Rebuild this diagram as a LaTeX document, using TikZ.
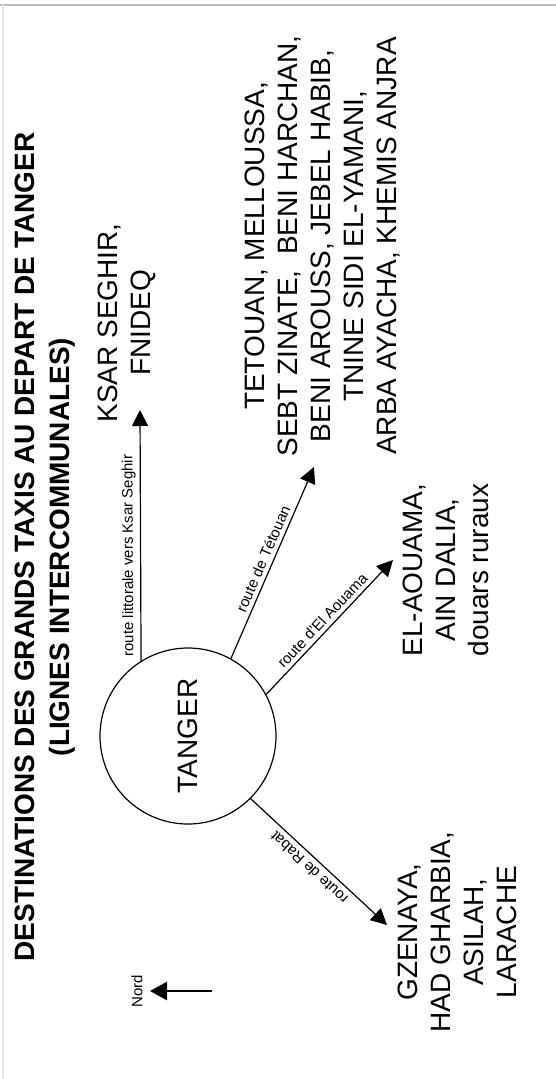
\documentclass[tikz,border=0pt]{standalone}
\usepackage{fontspec}
\setmainfont{Liberation Sans}
\usetikzlibrary{arrows.meta}

\begin{document}
\begin{tikzpicture}[x=1pt,y=-1pt,
ville/.style={rotate=90,align=center,inner sep=0pt,font=\fontsize{28}{33}\selectfont},
route/.style={sloped,above,allow upside down,inner sep=4pt,font=\fontsize{15}{18}\selectfont},
fleche/.style={line width=1.2pt,-{Triangle[length=16pt,width=16pt]}}]

\useasboundingbox (0,0) rectangle (556,1079);
\draw[gray!55,line width=2pt] (0,5) -- (556,5);
\draw[gray!20,line width=1.5pt] (3,5) -- (3,1079);

\node[rotate=90,align=center,inner sep=0pt,font=\bfseries\fontsize{28}{35}\selectfont]
(titre)
at (45,547)
{DESTINATIONS DES GRANDS TAXIS AU DEPART DE TANGER\\(LIGNES INTERCOMMUNALES)};

\node[draw,circle,line width=1.2pt,minimum size=176pt,inner sep=0pt,font=\fontsize{28}{33}\selectfont]
(T)
at (188,736)
{\rotatebox{90}{TANGER}};

\node[ville]
(K)
at (127,323)
{KSAR SEGHIR,\\FNIDEQ};

\node[ville]
(E)
at (323,246)
{TETOUAN, MELLOUSSA,\\SEBT ZINATE,\ \ BENI HARCHAN,\\BENI AROUSS, JEBEL HABIB,\\TNINE SIDI EL-YAMANI,\\ARBA AYACHA, KHEMIS ANJRA};

\node[ville]
(A)
at (446,570)
{EL-AOUAMA,\\AIN DALIA,\\douars ruraux};

\node[ville]
(G)
at (457,932)
{GZENAYA,\\HAD GHARBIA,\\ASILAH,\\LARACHE};

\node[rotate=90,inner sep=0pt,font=\fontsize{15}{18}\selectfont]
(N)
at (137,991)
{Nord};

\node[rotate=137.2,inner sep=0pt,font=\fontsize{15}{18}\selectfont]
(R)
at (309,868)
{route de Rabat};

\coordinate (tK) at (140,410);
\coordinate (tE) at (314,467);
\coordinate (tA) at (393,560);
\coordinate (tG) at (387,925);
\coordinate (n1) at (212,991);
\coordinate (n2) at (150,991);

\draw[fleche] (T.122.3) -- node[route,pos=0.42] {route littorale vers Ksar Seghir} (tK);
\draw[fleche] (T.61.5) -- node[route,midway] {route de Tétouan} (tE);
\draw[fleche] (T.28.3) -- node[route,midway] {route d'El Aouama} (tA);
\draw[fleche] (T.-45) -- (tG);
\draw[line width=2.7pt,-{Triangle[length=17pt,width=18pt]}] (n1) -- (n2);

\end{tikzpicture}
\end{document}
